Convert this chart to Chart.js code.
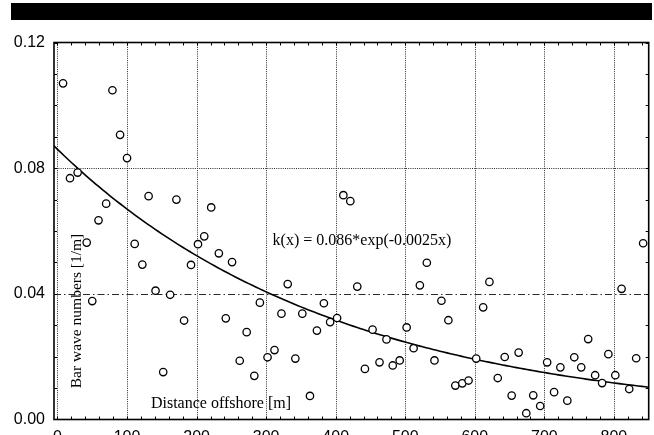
<!DOCTYPE html>
<html>
<head>
<meta charset="utf-8">
<script src="https://cdn.jsdelivr.net/npm/chart.js@4/dist/chart.umd.min.js"></script>
<style>
  html, body { margin: 0; padding: 0; background: #fff; overflow: hidden; }
  #wrap { position: absolute; left: 0; top: 0; width: 654px; height: 460px; }
  #band { position: absolute; left: 11px; top: 3px; width: 641px; height: 17px; background: #000; }
</style>
</head>
<body>
<div id="wrap">
  <canvas id="chart" width="654" height="460"></canvas>
  <div id="band"></div>
</div>
<script>
// Measured bar wave numbers versus distance offshore
const distance = [8, 18, 29, 42, 50, 59, 70, 79, 90, 100, 111, 122, 131, 141, 152, 162, 171, 182, 192, 202,
  211, 221, 232, 242, 251, 262, 272, 283, 291, 302, 312, 322, 331, 342, 352, 363, 373, 383, 392, 402,
  411, 421, 431, 442, 453, 463, 473, 482, 492, 502, 512, 521, 531, 542, 552, 562, 572, 582, 591, 602,
  612, 621, 633, 643, 653, 663, 674, 684, 694, 704, 714, 723, 733, 743, 753, 763, 773, 783, 792, 802,
  811, 822, 832, 842];
const waveNumber = [0.107, 0.0768, 0.0786, 0.0563, 0.0377, 0.0634, 0.0687, 0.1048, 0.0906, 0.0832,
  0.0559, 0.0493, 0.0711, 0.041, 0.0151, 0.0397, 0.070, 0.0315, 0.0492, 0.0558,
  0.0583, 0.0675, 0.0529, 0.0322, 0.0501, 0.0187, 0.0278, 0.0139, 0.0372, 0.0198,
  0.0221, 0.0337, 0.0431, 0.0194, 0.0337, 0.0075, 0.0283, 0.037, 0.031, 0.0323,
  0.0714, 0.0695, 0.0423, 0.0161, 0.0286, 0.0182, 0.0255, 0.0172, 0.0188, 0.0293,
  0.0227, 0.0427, 0.0499, 0.0188, 0.0378, 0.0316, 0.0108, 0.0115, 0.0124, 0.0194,
  0.0357, 0.0438, 0.0132, 0.0199, 0.0076, 0.0213, 0.002, 0.0077, 0.0043, 0.0182,
  0.0087, 0.0166, 0.006, 0.0198, 0.0166, 0.0256, 0.0141, 0.0116, 0.0208, 0.0141,
  0.0416, 0.0097, 0.0195, 0.0561];

// Exponential fit k(x) = a * exp(b x)
const fitA = 0.086;
const fitB = -0.0025;
const fitLabel = 'k(x) = 0.086*exp(-0.0025x)';

// Axis ticks
const xTicks = [0, 100, 200, 300, 400, 500, 600, 700, 800];
const yTicks = [0.00, 0.04, 0.08, 0.12];
const xRange = [-5, 850];
const yRange = [0, 0.12];

const xTitle = 'Distance offshore [m]';
const yTitle = 'Bar wave numbers [1/m]';

const points = distance.map((d, i) => ({ x: d, y: waveNumber[i] }));
const fitCurve = [];
for (let x = xRange[0]; x <= xRange[1]; x += 5) {
  fitCurve.push({ x: x, y: fitA * Math.exp(fitB * x) });
}

// Grid lines, frame, minor ticks and in-plot labels
const framePlugin = {
  id: 'frame',
  beforeDatasetsDraw(chart) {
    const { ctx, chartArea: a, scales: { x, y } } = chart;
    ctx.save();
    ctx.strokeStyle = '#2a2a2a';
    ctx.lineWidth = 1;
    // vertical grid (dotted)
    ctx.setLineDash([1, 1.2]);
    xTicks.forEach(v => {
      const px = Math.round(x.getPixelForValue(v)) + 0.5;
      ctx.beginPath(); ctx.moveTo(px, a.top); ctx.lineTo(px, a.bottom); ctx.stroke();
    });
    // horizontal grid
    yTicks.forEach(v => {
      if (v === yRange[0] || v === yRange[1]) return;
      const py = Math.round(y.getPixelForValue(v)) + 0.5;
      ctx.setLineDash(v === 0.04 ? [7, 3, 1.5, 3] : [1, 1.2]);
      ctx.beginPath(); ctx.moveTo(a.left, py); ctx.lineTo(a.right, py); ctx.stroke();
    });
    ctx.restore();
  },
  afterDatasetsDraw(chart) {
    const { ctx, chartArea: a, scales: { x, y } } = chart;
    ctx.save();
    // minor ticks pointing inward
    ctx.strokeStyle = '#000';
    ctx.lineWidth = 1;
    ctx.setLineDash([]);
    for (let v = 0; v <= 840; v += 20) {
      const px = Math.round(x.getPixelForValue(v)) + 0.5;
      ctx.beginPath();
      ctx.moveTo(px, a.bottom); ctx.lineTo(px, a.bottom - 3);
      ctx.moveTo(px, a.top); ctx.lineTo(px, a.top + 3);
      ctx.stroke();
    }
    for (let v = 0.01; v < 0.12; v += 0.01) {
      const py = Math.round(y.getPixelForValue(v)) + 0.5;
      ctx.beginPath();
      ctx.moveTo(a.left, py); ctx.lineTo(a.left + 3, py);
      ctx.moveTo(a.right, py); ctx.lineTo(a.right - 3, py);
      ctx.stroke();
    }
    // frame
    ctx.lineWidth = 1.6;
    ctx.strokeRect(a.left, a.top, a.right - a.left, a.bottom - a.top);

    // in-plot texts
    ctx.fillStyle = '#000';
    ctx.textBaseline = 'alphabetic';
    ctx.textAlign = 'center';
    ctx.font = '16px "Liberation Serif", "Times New Roman", serif';
    ctx.fillText(fitLabel, 362, 245);
    ctx.fillText(xTitle, 221, 408);
    ctx.font = '15.5px "Liberation Serif", "Times New Roman", serif';
    ctx.translate(81, 311);
    ctx.rotate(-Math.PI / 2);
    ctx.fillText(yTitle, 0, 0);
    ctx.restore();
  }
};

new Chart(document.getElementById('chart'), {
  type: 'scatter',
  data: {
    datasets: [
      {
        label: 'measured',
        data: points,
        pointStyle: 'circle',
        pointRadius: 3.7,
        pointBorderWidth: 1.3,
        pointBackgroundColor: '#fff',
        pointBorderColor: '#000',
        showLine: false,
        order: 1
      },
      {
        label: 'fit',
        type: 'line',
        data: fitCurve,
        borderColor: '#000',
        borderWidth: 1.6,
        pointRadius: 0,
        tension: 0,
        fill: false,
        order: 2
      }
    ]
  },
  options: {
    responsive: false,
    animation: false,
    events: [],
    layout: { padding: { top: 42.5, right: 4, left: 0, bottom: 0 } },
    plugins: { legend: { display: false }, tooltip: { enabled: false } },
    scales: {
      x: {
        type: 'linear',
        min: xRange[0],
        max: xRange[1],
        grid: { display: false, drawTicks: false },
        border: { display: false },
        afterBuildTicks: s => { s.ticks = xTicks.map(v => ({ value: v })); },
        afterFit: s => { s.height = 40.5; },
        ticks: {
          padding: 8,
          color: '#000',
          font: { family: '"Liberation Sans", Arial, sans-serif', size: 16 },
          callback: v => String(v)
        }
      },
      y: {
        type: 'linear',
        min: yRange[0],
        max: yRange[1],
        grid: { display: false, drawTicks: false },
        border: { display: false },
        afterBuildTicks: s => { s.ticks = yTicks.map(v => ({ value: v })); },
        afterFit: s => { s.width = 54; },
        ticks: {
          padding: 9,
          color: '#000',
          font: { family: '"Liberation Sans", Arial, sans-serif', size: 16 },
          callback: v => Number(v).toFixed(2)
        }
      }
    }
  },
  plugins: [framePlugin]
});
</script>
</body>
</html>
